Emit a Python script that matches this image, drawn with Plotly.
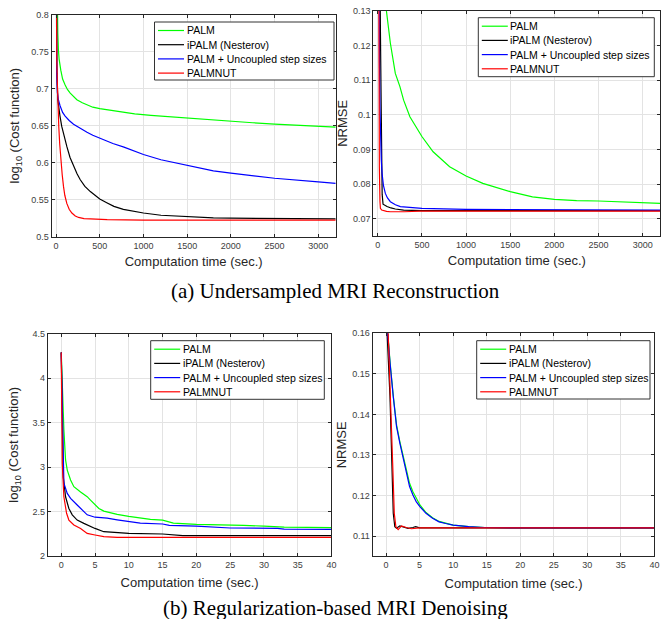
import plotly.graph_objects as go

# ---------------- data ----------------
NAMES = ["PALM", "iPALM (Nesterov)", "PALM + Uncoupled step sizes", "PALMNUT"]
COLORS = ["#00ff00", "#000000", "#0000ff", "#ff0000"]

# (a) Undersampled MRI reconstruction - log10(cost)
a_cost_palm_t = [0, 5, 10, 15, 20, 27, 35, 54, 75, 104, 130, 162, 200, 238, 300, 354, 420, 500,
                 650, 777, 900, 1085, 1300, 1500, 1750, 2000, 2250, 2500, 2800, 3200]
a_cost_palm = [0.95, 0.88, 0.82, 0.80, 0.775, 0.752, 0.740, 0.725, 0.713, 0.705, 0.699, 0.694,
               0.689, 0.685, 0.681, 0.678, 0.675, 0.673, 0.670, 0.668, 0.666, 0.664, 0.662,
               0.660, 0.658, 0.656, 0.654, 0.652, 0.650, 0.648]
a_cost_ipalm_t = [0, 4, 10, 20, 27, 45, 65, 90, 123, 160, 200, 240, 277, 330, 392, 450, 500,
                  580, 662, 770, 892, 1000, 1200, 1500, 1800, 2000, 2500, 3200]
a_cost_ipalm = [0.95, 0.80, 0.72, 0.685, 0.676, 0.663, 0.649, 0.636, 0.622, 0.607, 0.595, 0.585,
                0.577, 0.568, 0.561, 0.555, 0.551, 0.546, 0.541, 0.537, 0.534, 0.532, 0.529,
                0.527, 0.5255, 0.525, 0.5243, 0.524]
a_cost_unc_t = [0, 3, 8, 15, 25, 46, 75, 104, 150, 200, 280, 354, 420, 500, 650, 777, 1000,
                1200, 1500, 1800, 2000, 2500, 3000, 3200]
a_cost_unc = [0.95, 0.80, 0.72, 0.695, 0.686, 0.677, 0.668, 0.663, 0.657, 0.652, 0.646, 0.641,
              0.637, 0.633, 0.626, 0.621, 0.611, 0.604, 0.596, 0.589, 0.586, 0.579, 0.574, 0.572]
a_cost_nut_t = [0, 3, 8, 15, 22, 31, 42, 54, 70, 85, 100, 123, 150, 181, 220, 258, 320, 392,
                500, 585, 1000, 2000, 3200]
a_cost_nut = [0.95, 0.80, 0.74, 0.707, 0.675, 0.649, 0.625, 0.604, 0.584, 0.568, 0.556, 0.545,
              0.537, 0.532, 0.528, 0.526, 0.5245, 0.524, 0.5235, 0.523, 0.5225, 0.5225, 0.5225]

# (a) NRMSE
a_nrmse_palm_t = [0, 20, 50, 75, 98, 143, 199, 251, 293, 364, 500, 627, 814, 1000, 1190, 1500,
                  1752, 2000, 2252, 2500, 3000, 3200]
a_nrmse_palm = [0.25, 0.20, 0.155, 0.140, 0.130, 0.1206, 0.1119, 0.1081, 0.1042, 0.0994, 0.0937,
                0.0893, 0.0850, 0.0823, 0.0802, 0.0778, 0.0763, 0.0756, 0.0752, 0.0751, 0.0746,
                0.0744]
a_nrmse_ipalm_t = [0, 20, 30, 40, 50, 60, 80, 105, 150, 199, 293, 500, 1000, 2000, 3200]
a_nrmse_ipalm = [0.25, 0.15, 0.125, 0.100, 0.077, 0.0742, 0.0738, 0.0735, 0.0731, 0.0728,
                 0.0725, 0.0723, 0.0723, 0.0723, 0.0723]
a_nrmse_unc_t = [0, 12, 20, 25, 30, 40, 49, 65, 86, 110, 143, 200, 256, 364, 500, 1000, 2000, 3200]
a_nrmse_unc = [0.25, 0.14, 0.115, 0.102, 0.0946, 0.087, 0.083, 0.0795, 0.0773, 0.0760, 0.0749,
               0.0740, 0.0735, 0.0732, 0.0730, 0.0727, 0.0726, 0.0725]
a_nrmse_nut_t = [0, 8, 12, 18, 25, 30, 45, 68, 100, 143, 218, 300, 481, 1000, 2000, 3200]
a_nrmse_nut = [0.25, 0.14, 0.11, 0.085, 0.0750, 0.0730, 0.0725, 0.0723, 0.0721, 0.0720, 0.0719,
               0.0720, 0.0722, 0.0722, 0.0722, 0.0722]

# (b) Regularization-based MRI denoising - log10(cost)
b_cost_palm_t = [0, 0.2, 0.39, 0.64, 0.89, 1.38, 1.87, 2.86, 3.84, 4.33, 5.07, 5.57, 6.3, 8.28,
                 10, 11.7, 13.2, 15, 16.6, 20, 25, 27, 30, 33, 40]
b_cost_palm = [4.29, 3.8, 3.42, 3.08, 2.966, 2.854, 2.779, 2.72, 2.667, 2.629, 2.573, 2.535,
               2.505, 2.468, 2.445, 2.423, 2.412, 2.404, 2.37, 2.355, 2.35, 2.345, 2.335, 2.325,
               2.32]
b_cost_ipalm_t = [0, 0.15, 0.3, 0.64, 1.13, 1.63, 2.36, 3.35, 4.33, 5, 6.3, 8.28, 10, 15, 16.6,
                  18, 40]
b_cost_ipalm = [4.29, 3.4, 2.89, 2.666, 2.535, 2.463, 2.404, 2.367, 2.33, 2.31, 2.273, 2.262,
                2.255, 2.247, 2.236, 2.23, 2.23]
b_cost_unc_t = [0, 0.15, 0.3, 0.39, 0.89, 1.38, 2.36, 3.35, 3.84, 5, 6.8, 8.28, 10, 11.7, 15, 16,
                20, 24, 25, 32, 33, 40]
b_cost_unc = [4.29, 3.5, 3.04, 2.82, 2.704, 2.648, 2.573, 2.5, 2.463, 2.436, 2.425, 2.407,
              2.388, 2.37, 2.36, 2.345, 2.335, 2.325, 2.315, 2.31, 2.303, 2.30]
b_cost_nut_t = [0, 0.15, 0.39, 0.79, 1.13, 1.87, 2.86, 3.84, 5, 6.3, 8.28, 40]
b_cost_nut = [4.29, 3.04, 2.666, 2.48, 2.404, 2.348, 2.31, 2.254, 2.236, 2.217, 2.21, 2.21]

# (b) NRMSE
b_nrmse_palm_t = [0, 0.2, 0.6, 1.07, 1.56, 2.05, 2.54, 3.02, 3.5, 4.0, 4.49, 5.07, 5.95, 6.93,
                  7.9, 8.88, 10, 12.3, 14.7, 20, 40]
b_nrmse_palm = [0.165, 0.160, 0.1528, 0.1446, 0.1374, 0.1333, 0.1296, 0.1265, 0.1230, 0.1209,
                0.1192, 0.1176, 0.1158, 0.1145, 0.1136, 0.1131, 0.1127, 0.1123, 0.1121, 0.1120,
                0.1120]
b_nrmse_ipalm_t = [0, 0.15, 0.58, 0.83, 1.07, 1.3, 1.56, 2.05, 2.54, 3.27, 4.0, 4.4, 5, 40]
b_nrmse_ipalm = [0.17, 0.16, 0.1444, 0.128, 0.1156, 0.1123, 0.1119, 0.1125, 0.1123, 0.1119,
                 0.1121, 0.1123, 0.1120, 0.1120]
b_nrmse_unc_t = [0, 0.2, 0.59, 1.07, 1.56, 2.05, 2.54, 3.02, 3.5, 4.0, 4.49, 5.07, 5.95, 6.93,
                 7.9, 8.88, 10, 12.3, 14.7, 20, 40]
b_nrmse_unc = [0.165, 0.160, 0.1526, 0.1444, 0.1370, 0.1329, 0.1291, 0.1259, 0.1222, 0.1201,
               0.1185, 0.1172, 0.1156, 0.1144, 0.1135, 0.1131, 0.1127, 0.1123, 0.1121, 0.1120,
               0.1120]
b_nrmse_nut_t = [0, 0.34, 0.68, 0.98, 1.22, 1.46, 1.8, 2.3, 3.0, 3.76, 5, 40]
b_nrmse_nut = [0.175, 0.16, 0.1444, 0.128, 0.1156, 0.1123, 0.1116, 0.1125, 0.1121, 0.1118,
               0.1120, 0.1120]

X_TITLE = "Computation time (sec.)"
COST_TITLE = "log<sub>10</sub> (Cost function)"
NRMSE_TITLE = "NRMSE"
CAPTION_A = "(a) Undersampled MRI Reconstruction"
CAPTION_B = "(b) Regularization-based MRI Denoising"

panels = [
    ("x", "y", [(a_cost_palm_t, a_cost_palm), (a_cost_ipalm_t, a_cost_ipalm),
                (a_cost_unc_t, a_cost_unc), (a_cost_nut_t, a_cost_nut)]),
    ("x2", "y2", [(a_nrmse_palm_t, a_nrmse_palm), (a_nrmse_ipalm_t, a_nrmse_ipalm),
                  (a_nrmse_unc_t, a_nrmse_unc), (a_nrmse_nut_t, a_nrmse_nut)]),
    ("x3", "y3", [(b_cost_palm_t, b_cost_palm), (b_cost_ipalm_t, b_cost_ipalm),
                  (b_cost_unc_t, b_cost_unc), (b_cost_nut_t, b_cost_nut)]),
    ("x4", "y4", [(b_nrmse_palm_t, b_nrmse_palm), (b_nrmse_ipalm_t, b_nrmse_ipalm),
                  (b_nrmse_unc_t, b_nrmse_unc), (b_nrmse_nut_t, b_nrmse_nut)]),
]

# ---------------- figure ----------------
W, H = 661, 619
FONT = "Liberation Sans, Arial, Helvetica, sans-serif"
SERIF = "Liberation Serif, Times New Roman, serif"
AX = "#262626"
GRID = "#e3e3e3"
LINE_W = 1.2

fig = go.Figure()
for xa, ya, series in panels:
    for (t, v), name, col in zip(series, NAMES, COLORS):
        fig.add_trace(go.Scatter(x=t, y=v, mode="lines", name=name, xaxis=xa, yaxis=ya,
                                 showlegend=False, line=dict(color=col, width=LINE_W)))


def xax(domain, rng, dtick, anchor, standoff):
    return dict(domain=domain, range=rng, dtick=dtick, tick0=0, anchor=anchor,
                showline=True, linecolor=AX, linewidth=1, mirror="ticks",
                ticks="inside", ticklen=3, tickcolor=AX, tickformat="d",
                ticklabeloverflow="allow",
                showgrid=True, gridcolor=GRID, gridwidth=1, zeroline=False,
                tickfont=dict(family=FONT, size=9, color="#404040"),
                title=dict(text=X_TITLE, font=dict(family=FONT, size=13, color=AX),
                           standoff=standoff))


def yax(domain, rng, dtick, anchor, title, standoff):
    return dict(domain=domain, range=rng, dtick=dtick, tick0=0, anchor=anchor,
                showline=True, linecolor=AX, linewidth=1, mirror="ticks",
                ticks="inside", ticklen=3, tickcolor=AX,
                showgrid=True, gridcolor=GRID, gridwidth=1, zeroline=False,
                tickfont=dict(family=FONT, size=9, color="#404040"),
                title=dict(text=title, font=dict(family=FONT, size=13, color=AX),
                           standoff=standoff))


# legend boxes (left, top, right, bottom) in pixels of the figure
LEGEND_BOXES = [(154.5, 22.0, 334.0, 80.0), (478.3, 17.7, 654.3, 76.7),
                (150.7, 340.7, 324.3, 399.3), (476.7, 340.7, 650.0, 399.0)]
shapes, annotations = [], []
px = lambda v: v / W
py = lambda v: 1 - v / H
for (l, t, r, b) in LEGEND_BOXES:
    shapes.append(dict(type="rect", xref="paper", yref="paper", x0=px(l), x1=px(r),
                       y0=py(b), y1=py(t), line=dict(color="#333333", width=1),
                       fillcolor="white", layer="above"))
    for i, (name, col) in enumerate(zip(NAMES, COLORS)):
        yy = t + 8.5 + 14.2 * i
        shapes.append(dict(type="line", xref="paper", yref="paper", x0=px(l + 3.5),
                           x1=px(l + 29.5), y0=py(yy), y1=py(yy),
                           line=dict(color=col, width=LINE_W), layer="above"))
        annotations.append(dict(text=name, x=px(l + 30), y=py(yy), xref="paper", yref="paper",
                                xanchor="left", yanchor="middle", showarrow=False,
                                font=dict(family=FONT, size=10.5, color="#000000")))

annotations.append(dict(text=CAPTION_A, x=0.508, y=py(291), xref="paper", yref="paper",
                        xanchor="center", yanchor="middle", showarrow=False,
                        font=dict(family=SERIF, size=21, color="#000000")))
annotations.append(dict(text=CAPTION_B, x=0.508, y=py(622), xref="paper", yref="paper",
                        xanchor="center", yanchor="bottom", showarrow=False,
                        font=dict(family=SERIF, size=21, color="#000000")))

fig.update_layout(
    width=W, height=H,
    margin=dict(l=0, r=0, t=0, b=0, autoexpand=False),
    paper_bgcolor="white", plot_bgcolor="white",
    showlegend=False,
    xaxis=xax([0.0782, 0.5079], [-50, 3200], 500, "y", 7),
    yaxis=yax([0.6176, 0.9763], [0.5, 0.8], 0.05, "x", COST_TITLE, 8),
    xaxis2=xax([0.5648, 0.999], [-50, 3200], 500, "y2", 7),
    yaxis2=yax([0.6187, 0.9827], [0.065, 0.13], 0.01, "x2", NRMSE_TITLE, 2),
    xaxis3=xax([0.0722, 0.5015], [-2, 40], 5, "y3", 9),
    yaxis3=yax([0.1018, 0.4609], [2, 4.5], 0.5, "x3", COST_TITLE, 10),
    xaxis4=xax([0.5638, 0.990], [-2, 40], 5, "y4", 9),
    yaxis4=yax([0.1013, 0.4615], [0.105, 0.16], 0.01, "x4", NRMSE_TITLE, 2),
    shapes=shapes,
    annotations=annotations,
)

fig.write_html("out.html", config={"displayModeBar": False},
               post_script="document.body.style.margin='0px';")
